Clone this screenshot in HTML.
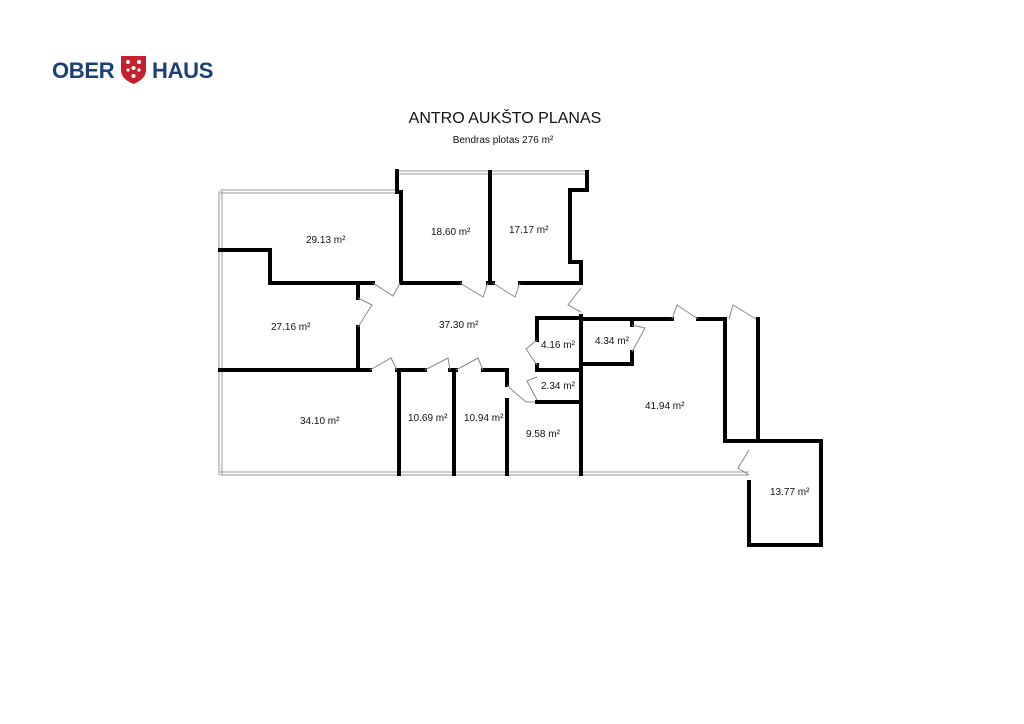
<!DOCTYPE html>
<html><head><meta charset="utf-8"><style>
html,body{margin:0;padding:0;background:#fff;width:1024px;height:724px;overflow:hidden}
svg{display:block}
text{font-family:"Liberation Sans",sans-serif;fill:#111}
</style></head><body>
<svg width="1024" height="724" viewBox="0 0 1024 724" xmlns="http://www.w3.org/2000/svg">
<!-- logo -->
<text x="52" y="78" font-size="22" font-weight="bold" style="fill:#1c3f7a;letter-spacing:-0.3px">OBER</text>
<text x="152" y="78" font-size="22" font-weight="bold" style="fill:#1c3f7a;letter-spacing:-0.3px">HAUS</text>
<path d="M121 56 H146 V70 Q146 79 133.5 84 Q121 79 121 70 Z" fill="#c4202e"/>
<g fill="#fff"><circle cx="128" cy="62" r="2"/><circle cx="139" cy="62" r="2"/><circle cx="133.5" cy="68" r="2"/><circle cx="128" cy="70" r="1.6"/><circle cx="139" cy="70" r="1.6"/><circle cx="133.5" cy="76" r="2"/></g>
<!-- titles -->
<text x="505" y="123" font-size="16" text-anchor="middle">ANTRO AUKŠTO PLANAS</text>
<text x="503" y="143" font-size="10" text-anchor="middle">Bendras plotas 276 m²</text>
<!-- windows -->
<g stroke="#999" stroke-width="1" fill="none">
<path d="M220 190 H396 M220 193 H396"/>
<path d="M398 171 H586 M398 174 H586"/>
<path d="M219 191 V475 M222 191 V475"/>
<path d="M220 472 H749 M220 475 H749"/>
</g>
<!-- walls -->
<g stroke="#000" stroke-width="4" fill="none" stroke-linecap="square">
<path d="M397 171 V192 H401 V283"/>
<path d="M490 172 V283"/>
<path d="M587 172 V190 H570 V262 H581 V283"/>
<path d="M220 250 H270 V283 H373"/>
<path d="M401 283 H460"/>
<path d="M488 283 H493"/>
<path d="M520 283 H581"/>
<path d="M358 283 V298 M358 327 V370"/>
<path d="M220 370 H370 M397 370 H425 M450 370 H456 M483 370 H507 V385 M507 400 V474"/>
<path d="M399 370 V474 M454 370 V474"/>
<path d="M581 316 V474"/>
<path d="M537 340 V318 H581"/>
<path d="M537 365 V370 H581"/>
<path d="M537 402 H581"/>
<path d="M581 319 H672 M698 319 H725 V441 H821 V545 H749 V482"/>
<path d="M758 319 V441"/>
<path d="M632 319 V325 M632 352 V364 H581"/>
</g>
<!-- doors -->
<g stroke="#888" stroke-width="1" fill="none">
<path d="M373 283 L393 296 L400 283"/>
<path d="M460 283 L483 297 L488 283"/>
<path d="M493 283 L515 297 L520 283"/>
<path d="M581 288 L568 305 L581 312"/>
<path d="M358 298 L372 305 L358 327"/>
<path d="M370 370 L391 358 L397 370"/>
<path d="M425 370 L448 358 L450 370"/>
<path d="M456 370 L478 358 L483 370"/>
<path d="M537 340 L526 349 L537 365"/>
<path d="M537 377 L527 381 L537 400"/>
<path d="M507 385 L512 390 L526 402 H535"/>
<path d="M632 325 L645 328 L632 352"/>
<path d="M672 319 L677 305 L698 319"/>
<path d="M729 319 L733 305 L756 319"/>
<path d="M749 450 L738 468 L749 475"/>
</g>
<!-- labels -->
<g font-size="10">
<text x="306" y="243">29.13 m²</text>
<text x="431" y="235">18.60 m²</text>
<text x="509" y="233">17.17 m²</text>
<text x="271" y="330">27.16 m²</text>
<text x="439" y="328">37.30 m²</text>
<text x="541" y="348">4.16 m²</text>
<text x="595" y="344">4.34 m²</text>
<text x="541" y="389">2.34 m²</text>
<text x="300" y="424">34.10 m²</text>
<text x="408" y="421">10.69 m²</text>
<text x="464" y="421">10.94 m²</text>
<text x="526" y="437">9.58 m²</text>
<text x="645" y="409">41.94 m²</text>
<text x="770" y="495">13.77 m²</text>
</g>
</svg>
</body></html>
